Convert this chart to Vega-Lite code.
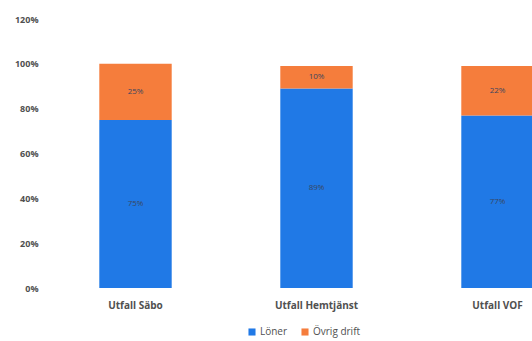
{
  "$schema": "https://vega.github.io/schema/vega-lite/v6.json",
  "width": 543,
  "height": 269,
  "autosize": {"type": "none"},
  "padding": {"left": 45, "top": 19, "right": 0, "bottom": 53},
  "background": "white",
  "config": {
    "view": {"stroke": null},
    "font": "Open Sans"
  },
  "data": {
    "values": [
      {"kategori": "Utfall Säbo", "typ": "Löner", "andel": 75, "etikett": "75%"},
      {"kategori": "Utfall Säbo", "typ": "Övrig drift", "andel": 25, "etikett": "25%"},
      {"kategori": "Utfall Hemtjänst", "typ": "Löner", "andel": 89, "etikett": "89%"},
      {"kategori": "Utfall Hemtjänst", "typ": "Övrig drift", "andel": 10, "etikett": "10%"},
      {"kategori": "Utfall VOF", "typ": "Löner", "andel": 77, "etikett": "77%"},
      {"kategori": "Utfall VOF", "typ": "Övrig drift", "andel": 22, "etikett": "22%"}
    ]
  },
  "transform": [
    {"stack": "andel", "groupby": ["kategori"], "sort": [{"field": "typ", "order": "ascending"}], "as": ["y0", "y1"]},
    {"calculate": "(datum.y0 + datum.y1) / 2", "as": "ymid"}
  ],
  "encoding": {
    "x": {
      "field": "kategori", "type": "nominal", "sort": null,
      "scale": {"paddingInner": 0.6, "paddingOuter": 0.3},
      "axis": {"title": null, "labelAngle": 0, "domain": false, "ticks": false, "labelPadding": 12, "labelFontSize": 10, "labelFontWeight": "bold", "labelColor": "#505050"}
    }
  },
  "layer": [
    {
      "mark": {"type": "bar"},
      "encoding": {
        "y": {
          "field": "y0", "type": "quantitative",
          "scale": {"domain": [0, 120]},
          "axis": {"title": null, "values": [0, 20, 40, 60, 80, 100, 120], "labelExpr": "datum.value + '%'", "grid": false, "domain": false, "ticks": false, "labelPadding": 7, "labelFontSize": 9, "labelFontWeight": "bold", "labelColor": "#505050"}
        },
        "y2": {"field": "y1"},
        "color": {
          "field": "typ", "type": "nominal",
          "scale": {"domain": ["Löner", "Övrig drift"], "range": ["#2079e6", "#f57d3c"]},
          "legend": {"title": null, "orient": "none", "direction": "horizontal", "legendX": 202, "legendY": 308, "symbolType": "square", "symbolSize": 50, "labelFontSize": 10, "labelColor": "#505050", "columnPadding": 12, "labelOffset": 3, "symbolOffset": 0}
        }
      }
    },
    {
      "mark": {"type": "text", "fontSize": 8, "color": "#3a4660"},
      "encoding": {
        "y": {"field": "ymid", "type": "quantitative"},
        "text": {"field": "etikett", "type": "nominal"}
      }
    }
  ]
}
